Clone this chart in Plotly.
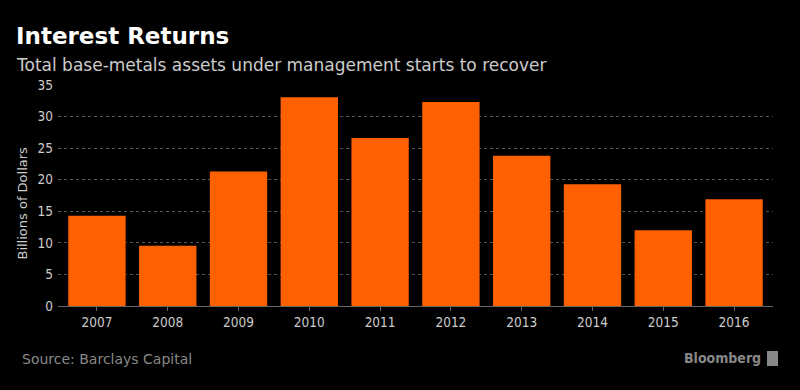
import plotly.graph_objects as go

years = ["2007", "2008", "2009", "2010", "2011", "2012", "2013", "2014", "2015", "2016"]
assets = [14.3, 9.55, 21.3, 33.05, 26.6, 32.3, 23.8, 19.3, 12.0, 16.9]
y_ticks = [0, 5, 10, 15, 20, 25, 30, 35]

W, H = 800, 390
ML, MR, MT, MB = 57.5, 27, 85, 84
COND = "DejaVu Sans Condensed, DejaVu Sans, sans-serif"
WIDE = "DejaVu Sans, sans-serif"

fig = go.Figure(go.Bar(x=years, y=assets, marker=dict(color="#ff6000", line=dict(width=0))))

fig.update_layout(
    width=W, height=H,
    paper_bgcolor="black", plot_bgcolor="black",
    margin=dict(l=ML, r=MR, t=MT, b=MB),
    bargap=0.19,
    showlegend=False,
    font=dict(family=COND, color="#cccccc", size=13),
)
fig.update_xaxes(
    type="category", range=[-0.55, 9.55],
    showline=True, linecolor="#666666", linewidth=1,
    ticks="outside", ticklen=4, tickcolor="#666666",
    tickfont=dict(size=13.5, color="#cccccc"),
    showgrid=False, zeroline=False,
)
fig.update_yaxes(
    range=[0, 35], tickvals=y_ticks,
    showgrid=True, gridcolor="#555555", griddash="dot", gridwidth=1,
    zeroline=False, showline=False, ticks="", ticklabelstandoff=4,
    tickfont=dict(size=13.5, color="#cccccc"),
)


def px_x(px):
    return (px - ML) / (W - ML - MR)


def px_y(py):
    return (H - MB - py) / (H - MT - MB)


fig.add_annotation(text="<b>Interest Returns</b>", xref="paper", yref="paper",
                   x=px_x(13), y=px_y(51), xanchor="left", yanchor="bottom",
                   showarrow=False, font=dict(size=23, color="white", family=WIDE))
fig.add_annotation(text="Total base-metals assets under management starts to recover", xref="paper", yref="paper",
                   x=px_x(13), y=px_y(77), xanchor="left", yanchor="bottom",
                   showarrow=False, font=dict(size=17, color="#cccccc", family=WIDE))
fig.add_annotation(text="Billions of Dollars", xref="paper", yref="paper",
                   x=px_x(21), y=px_y(203), xanchor="center", yanchor="middle", textangle=-90,
                   showarrow=False, font=dict(size=13, color="#cccccc", family=WIDE))
fig.add_annotation(text="Source: Barclays Capital", xref="paper", yref="paper",
                   x=px_x(19), y=px_y(359), xanchor="left", yanchor="middle",
                   showarrow=False, font=dict(size=14, color="#888888", family=WIDE))
fig.add_annotation(text="<b>Bloomberg</b>", xref="paper", yref="paper",
                   x=px_x(763), y=px_y(358), xanchor="right", yanchor="middle",
                   showarrow=False, font=dict(size=14, color="#888888", family=COND))
fig.add_shape(type="rect", xref="paper", yref="paper",
              x0=px_x(767), x1=px_x(778), y0=px_y(366), y1=px_y(351),
              fillcolor="#888888", line=dict(width=0))

fig.write_html("out.html", config={"displayModeBar": False},
               post_script="document.body.style.margin='0';document.body.style.background='black';")
